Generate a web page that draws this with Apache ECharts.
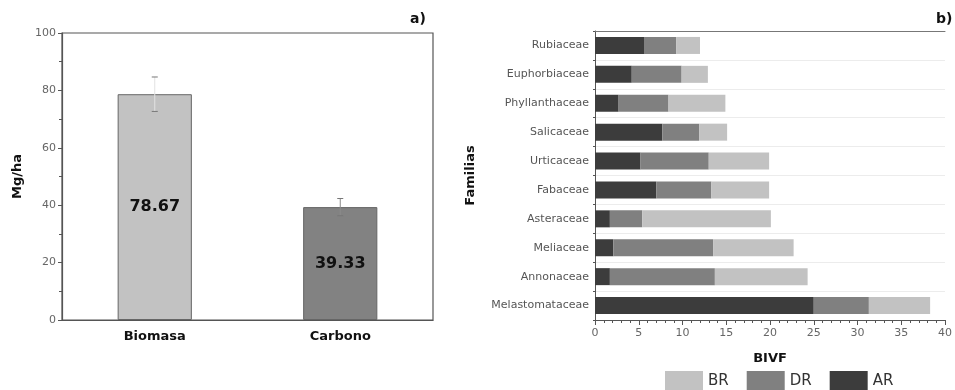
<!DOCTYPE html>
<html><head><meta charset="utf-8">
<script src="https://cdn.jsdelivr.net/npm/echarts@6/dist/echarts.min.js"></script>
<style>html,body{margin:0;padding:0;background:#fff}#c{width:955px;height:390px}</style>
</head><body><div id="c"></div>
<script>
// Panel a)
const leftCategories = ['Biomasa', 'Carbono'];
const leftValues = [78.67, 39.33];
const leftErrors = [6, 3];
const leftColors = ['#c2c2c2', '#828282'];
const errorLineColors = ['#e2e2e2', '#8a8a8a'];
const leftTicks = [0, 20, 40, 60, 80, 100];

// Panel b)
const families = ['Rubiaceae','Euphorbiaceae','Phyllanthaceae','Salicaceae','Urticaceae','Fabaceae','Asteraceae','Meliaceae','Annonaceae','Melastomataceae'];
const AR = [5.6, 4.2, 2.7, 7.7, 5.2, 7.0, 1.7, 2.1, 1.7, 25.0];
const DR = [3.7, 5.7, 5.7, 4.2, 7.8, 6.3, 3.7, 11.4, 12.0, 6.3];
const BR = [2.7, 3.0, 6.5, 3.2, 6.9, 6.6, 14.7, 9.2, 10.6, 7.0];
const bTicks = [0, 5, 10, 15, 20, 25, 30, 35, 40];

const FONT = 'DejaVu Sans';
const chart = echarts.init(document.getElementById('c'));
chart.setOption({
  animation: false,
  textStyle: {fontFamily: FONT},
  grid: [
    {left: 62, right: 522, top: 33, bottom: 70, show: true, borderColor: '#555', borderWidth: 1.2},
    {left: 595, right: 7, top: 31, bottom: 70}
  ],
  legend: {
    data: ['BR', 'DR', 'AR'], left: 660, top: 366, padding: 5, itemWidth: 38, itemHeight: 20, itemGap: 18,
    icon: 'rect', textStyle: {fontSize: 15, color: '#333', fontFamily: FONT}
  },
  graphic: [
    {type: 'text', left: 410, top: 12, style: {text: 'a)', font: 'bold 14px ' + FONT, fill: '#111'}},
    {type: 'text', left: 936, top: 12, style: {text: 'b)', font: 'bold 14px ' + FONT, fill: '#111'}}
  ],
  xAxis: [
    {type: 'category', gridIndex: 0, data: leftCategories,
     axisLine: {lineStyle: {color: '#555', width: 1.2}},
     axisTick: {alignWithLabel: true, lineStyle: {color: '#555'}},
     axisLabel: {fontSize: 13, fontWeight: 'bold', color: '#111', margin: 10}},
    {type: 'value', gridIndex: 1, min: bTicks[0], max: bTicks[bTicks.length - 1], interval: 5,
     name: 'BIVF', nameLocation: 'middle', nameGap: 32,
     nameTextStyle: {fontSize: 13, fontWeight: 'bold', color: '#111'},
     axisLine: {show: true, lineStyle: {color: '#555'}},
     axisTick: {show: true, length: 5, lineStyle: {color: '#555'}},
     minorTick: {show: true, splitNumber: 5, length: 3, lineStyle: {color: '#555'}},
     splitLine: {show: false},
     axisLabel: {fontSize: 11, color: '#666', margin: 8}},
    {type: 'value', gridIndex: 1, position: 'top', min: 0, max: 40,
     axisLine: {show: true, lineStyle: {color: '#777'}}, axisTick: {show: false},
     axisLabel: {show: false}, splitLine: {show: false}}
  ],
  yAxis: [
    {type: 'value', gridIndex: 0, min: leftTicks[0], max: leftTicks[leftTicks.length - 1], interval: 20,
     name: 'Mg/ha', nameLocation: 'middle', nameGap: 38,
     nameTextStyle: {fontSize: 13, fontWeight: 'bold', color: '#111'},
     axisLine: {show: true, lineStyle: {color: '#555', width: 1.2}},
     axisTick: {show: true, length: 4, lineStyle: {color: '#555'}},
     minorTick: {show: true, splitNumber: 2, length: 3, lineStyle: {color: '#555'}},
     splitLine: {show: false},
     axisLabel: {fontSize: 11, color: '#666', margin: 6}},
    {type: 'category', gridIndex: 1, data: families, inverse: true,
     name: 'Familias', nameLocation: 'middle', nameGap: 118,
     nameTextStyle: {fontSize: 13, fontWeight: 'bold', color: '#111'},
     axisLine: {show: true, lineStyle: {color: '#555'}},
     axisTick: {show: true, length: 2, lineStyle: {color: '#555'}},
     splitLine: {show: true, lineStyle: {color: '#ececec'}},
     axisLabel: {fontSize: 11, color: '#555', margin: 6}}
  ],
  series: [
    {type: 'bar', xAxisIndex: 0, yAxisIndex: 0, barWidth: '40%',
     data: leftValues.map((v, i) => ({value: v, itemStyle: {color: leftColors[i], borderColor: '#666', borderWidth: 1}})),
     label: {show: true, position: 'inside', fontSize: 16, fontWeight: 'bold', color: '#111',
             formatter: p => p.value.toFixed(2)}},
    {type: 'custom', xAxisIndex: 0, yAxisIndex: 0, z: 5,
     data: leftValues.map((v, i) => [i, v, leftErrors[i]]),
     renderItem: function (params, api) {
       const x = api.value(0), v = api.value(1), e = api.value(2);
       const top = api.coord([x, v + e]);
       const bot = api.coord([x, v - e]);
       const hw = 3;
       return {type: 'group', children: [
         {type: 'line', shape: {x1: top[0], y1: top[1], x2: bot[0], y2: bot[1]}, style: {stroke: errorLineColors[params.dataIndex], lineWidth: 1}},
         {type: 'line', shape: {x1: top[0] - hw, y1: top[1], x2: top[0] + hw, y2: top[1]}, style: {stroke: '#777', lineWidth: 1}},
         {type: 'line', shape: {x1: bot[0] - hw, y1: bot[1], x2: bot[0] + hw, y2: bot[1]}, style: {stroke: '#777', lineWidth: 1}}
       ]};
     }},
    {name: 'AR', type: 'bar', stack: 'b', xAxisIndex: 1, yAxisIndex: 1, barWidth: 17, data: AR, itemStyle: {color: '#3c3c3c'}},
    {name: 'DR', type: 'bar', stack: 'b', xAxisIndex: 1, yAxisIndex: 1, barWidth: 17, data: DR, itemStyle: {color: '#808080'}},
    {name: 'BR', type: 'bar', stack: 'b', xAxisIndex: 1, yAxisIndex: 1, barWidth: 17, data: BR, itemStyle: {color: '#c2c2c2'}}
  ]
});
</script></body></html>
